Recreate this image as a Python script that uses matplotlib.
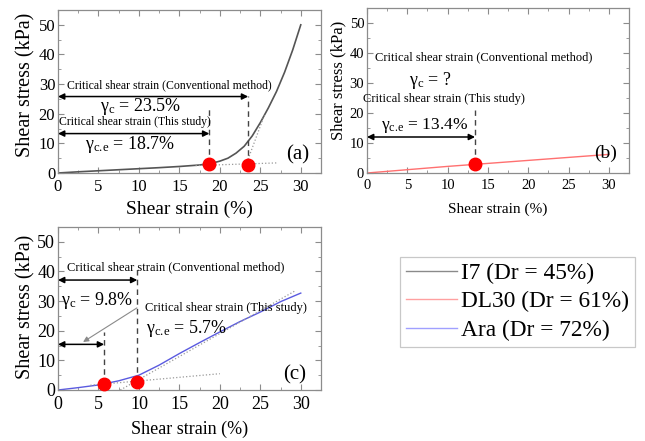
import matplotlib
matplotlib.use("Agg")
import matplotlib.pyplot as plt
from matplotlib.lines import Line2D
from matplotlib.ticker import MultipleLocator

plt.rcParams["font.family"] = ["Liberation Serif", "DejaVu Serif"]
plt.rcParams["mathtext.fontset"] = "custom"
plt.rcParams["mathtext.rm"] = "Liberation Serif"
plt.rcParams["mathtext.it"] = "Liberation Serif"
plt.rcParams["mathtext.bf"] = "Liberation Serif:bold"

# ---- stress-strain curves ----
strain_i7 = [0, 2.5, 5, 7.5, 10, 12.5, 15, 17.5, 19, 20, 21, 22, 23, 24, 25, 26, 27, 28, 29, 30]
stress_i7 = [0, 0.4, 0.75, 1.1, 1.45, 1.8, 2.2, 2.7, 3.3, 4.0, 5.0, 6.7, 9.0, 12.5, 17.0, 22.0, 27.5, 34.0, 41.5, 50.0]

strain_dl30 = [0, 5, 10, 15, 20, 25, 30]
stress_dl30 = [0, 1.1, 2.2, 3.2, 4.2, 5.2, 6.2]

strain_ara = [0, 2.5, 5, 7.5, 10, 12.5, 15, 17.5, 20, 22.5, 25, 27.5, 30]
stress_ara = [0, 0.8, 1.7, 3.1, 5.0, 8.4, 12.3, 16.0, 19.6, 23.1, 26.3, 29.8, 32.7]

# ---- critical shear strains (%) and stresses at those points (kPa) ----
gc_i7, gce_i7 = 23.5, 18.7
gce_dl30 = 13.4
gc_ara, gce_ara = 9.8, 5.7
tau_gc_i7, tau_gce_i7 = 2.8, 3.0
tau_gce_dl30 = 3.0
tau_gc_ara, tau_gce_ara = 2.8, 2.0

# ---- tangent construction lines (x pairs, y pairs) ----
tan_i7_low = ([17.0, 27.0], [2.5, 3.4])
tan_i7_high = ([23.2, 25.5], [2.5, 19.5])
tan_ara_low = ([4.0, 20.0], [1.6, 5.5])
tan_ara_high = ([7.7, 29.4], [0.0, 33.6])

labels = ["I7 (Dr = 45%)", "DL30 (Dr = 61%)", "Ara (Dr = 72%)"]
line_colors = ["#555555", "#ff7070", "#5a5ae0"]
legend_colors = ["#8a8a8a", "#ffa0a0", "#a0a0ff"]

GC = r"$\gamma_{\rm c}$"
GCE = r"$\gamma_{\rm c.\!e}$"

W, H = 645, 441
fig = plt.figure(figsize=(W / 100, H / 100), dpi=100)


def box(l, t, r, b):
    return [l / W, 1 - b / H, (r - l) / W, (b - t) / H]


ax_a = fig.add_axes(box(58, 10, 321, 173))
ax_b = fig.add_axes(box(367, 8, 629, 173))
ax_c = fig.add_axes(box(58, 227, 321, 390))

frame = "#8c8c8c"


def style(ax, tick_fs, xl_fs, yl_fs, xl_y, yl_x, yl_y):
    ax.set_xlim(0, 32.5)
    ax.set_ylim(0, 55)
    ax.xaxis.set_major_locator(MultipleLocator(5))
    ax.xaxis.set_minor_locator(MultipleLocator(2.5))
    ax.yaxis.set_major_locator(MultipleLocator(10))
    ax.yaxis.set_minor_locator(MultipleLocator(5))
    for s in ax.spines.values():
        s.set_color(frame)
        s.set_linewidth(0.9)
    ax.tick_params(which="both", direction="in", top=True, right=True,
                   color=frame, labelsize=tick_fs)
    ax.tick_params(axis="x", pad=4)
    ax.tick_params(axis="y", pad=2)
    ax.tick_params(which="major", length=4)
    ax.tick_params(which="minor", length=2)
    ax.set_xlabel("Shear strain (%)", fontsize=xl_fs)
    ax.set_ylabel("Shear stress (kPa)", fontsize=yl_fs)
    ax.xaxis.set_label_coords(0.5, xl_y)
    ax.yaxis.set_label_coords(yl_x, yl_y)


def darrow(ax, x1, y, lw=1.1):
    ax.annotate("", xy=(x1, y), xytext=(0, y),
                arrowprops=dict(arrowstyle="<|-|>", color="black", lw=lw,
                                mutation_scale=9, shrinkA=0, shrinkB=0))


def vdash(ax, x, y0, y1):
    ax.plot([x, x], [y0, y1], ls=(0, (4, 3)), color="#444444", lw=1.0)


def dotted(ax, seg):
    ax.plot(seg[0], seg[1], ls=":", color="#9a9a9a", lw=0.9)


def dot(ax, x, y):
    ax.plot([x], [y], "o", color="#ff0000", ms=9, mec="#ff0000", zorder=5,
            clip_on=False)


# ---- (a) I7 ----
style(ax_a, 12, 14, 14.5, -0.17, -0.087, 0.54)
ax_a.plot(strain_i7, stress_i7, color=line_colors[0], lw=1.2)
dotted(ax_a, tan_i7_low)
dotted(ax_a, tan_i7_high)
vdash(ax_a, gce_i7, tau_gce_i7, 21.5)
vdash(ax_a, gc_i7, tau_gc_i7, 26.0)
darrow(ax_a, gc_i7, 25.8)
darrow(ax_a, gce_i7, 13.3)
dot(ax_a, gce_i7, tau_gce_i7)
dot(ax_a, gc_i7, tau_gc_i7)
ax_a.text(13.7, 29.5, "Critical shear strain (Conventional method)",
          fontsize=8.5, ha="center", va="center")
ax_a.text(10.2, 22.3, GC + " = %.1f%%" % gc_i7,
          fontsize=13, ha="center", va="center")
ax_a.text(9.5, 17.2, "Critical shear strain (This study)",
          fontsize=8.5, ha="center", va="center")
ax_a.text(8.9, 9.5, GCE + " = %.1f%%" % gce_i7,
          fontsize=13, ha="center", va="center")
ax_a.text(29.6, 6.0, "(a)", fontsize=15, ha="center", va="center")

# ---- (b) DL30 ----
style(ax_b, 10.5, 11, 12, -0.18, -0.08, 0.56)
ax_b.plot(strain_dl30, stress_dl30, color=line_colors[1], lw=1.0)
vdash(ax_b, gce_dl30, tau_gce_dl30, 21.0)
darrow(ax_b, gce_dl30, 12.0)
dot(ax_b, gce_dl30, tau_gce_dl30)
ax_b.text(14.5, 38.5, "Critical shear strain (Conventional method)",
          fontsize=9, ha="center", va="center")
ax_b.text(7.8, 31.0, GC + " = ?", fontsize=13,
          ha="center", va="center")
ax_b.text(9.5, 24.7, "Critical shear strain (This study)",
          fontsize=9, ha="center", va="center")
ax_b.text(7.2, 16.0, GCE + " = %.1f%%" % gce_dl30,
          fontsize=12.5, ha="center", va="center")
ax_b.text(29.6, 6.4, "(b)", fontsize=14, ha="center", va="center")

# ---- (c) Ara ----
style(ax_c, 13, 13, 14.5, -0.19, -0.087, 0.51)
ax_c.plot(strain_ara, stress_ara, color=line_colors[2], lw=1.0)
dotted(ax_c, tan_ara_low)
dotted(ax_c, tan_ara_high)
vdash(ax_c, gce_ara, tau_gce_ara, 19.5)
vdash(ax_c, gc_ara, tau_gc_ara, 41.8)
darrow(ax_c, gc_ara, 37.1)
darrow(ax_c, gce_ara, 15.4)
ax_c.annotate("", xy=(3.1, 16.2), xytext=(9.75, 27.7),
              arrowprops=dict(arrowstyle="-|>", color="#8a8a8a", lw=0.8,
                              mutation_scale=8, shrinkA=0, shrinkB=0))
dot(ax_c, gce_ara, tau_gce_ara)
dot(ax_c, gc_ara, tau_gc_ara)
ax_c.text(14.5, 41.4, "Critical shear strain (Conventional method)",
          fontsize=9, ha="center", va="center")
ax_c.text(4.8, 30.2, GC + " = %.1f%%" % gc_ara,
          fontsize=13, ha="center", va="center")
ax_c.text(20.7, 27.7, "Critical shear strain (This study)",
          fontsize=9, ha="center", va="center")
ax_c.text(15.9, 20.7, GCE + " = %.1f%%" % gce_ara,
          fontsize=13, ha="center", va="center")
ax_c.text(29.2, 5.0, "(c)", fontsize=15, ha="center", va="center")

# ---- legend ----
handles = [Line2D([], [], color=c, lw=1.0) for c in legend_colors]
leg = fig.legend(handles, labels, loc="upper left",
                 bbox_to_anchor=(400 / W, 1 - 257 / H), borderaxespad=0,
                 fontsize=16.8, handlelength=2.2, handletextpad=0.15,
                 labelspacing=0.3, borderpad=0.25, fancybox=False,
                 framealpha=1)
leg.get_frame().set_edgecolor("#c8c8c8")
leg.get_frame().set_linewidth(0.9)

fig.savefig("out.png", dpi=100)
